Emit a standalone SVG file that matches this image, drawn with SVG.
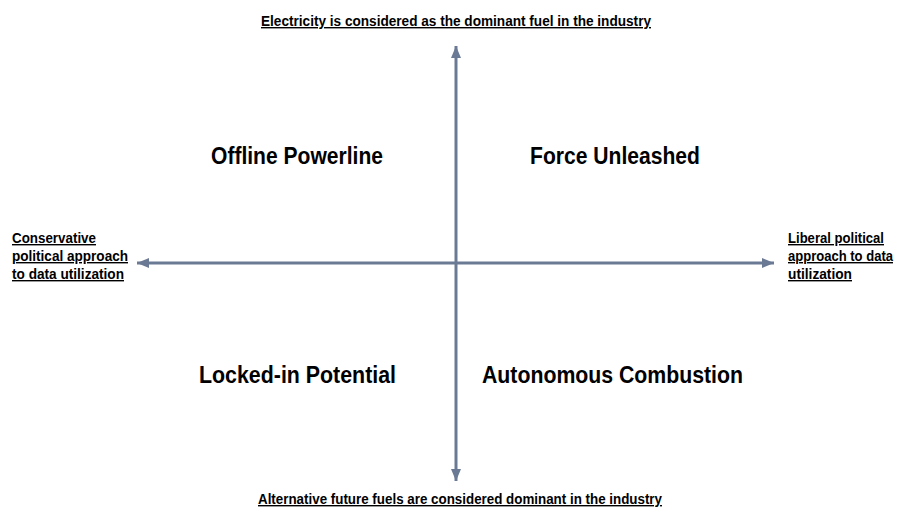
<svg xmlns="http://www.w3.org/2000/svg" width="897" height="514" viewBox="0 0 897 514">
<style>
.ax{stroke:#6b7a94;stroke-width:3;fill:none}
.lbl{font-family:"Liberation Sans",Arial,sans-serif;font-weight:bold;font-size:14px;fill:#000;text-decoration:underline}
.q{font-family:"Liberation Sans",Arial,sans-serif;font-weight:bold;font-size:23px;fill:#000}
</style>
<defs>
<marker id="ah" markerUnits="userSpaceOnUse" markerWidth="14" markerHeight="12" refX="12" refY="5" orient="auto">
<path d="M0,0 L12,5 L0,10 Z" fill="#6b7a94"/>
</marker>
</defs>
<rect width="897" height="514" fill="#fff"/>
<g id="connectors">
<line class="ax" x1="456" y1="263" x2="456" y2="46" marker-end="url(#ah)"/>
<line class="ax" x1="456" y1="263" x2="456" y2="481" marker-end="url(#ah)"/>
<line class="ax" x1="456" y1="263" x2="137" y2="263" marker-end="url(#ah)"/>
<line class="ax" x1="456" y1="263" x2="774" y2="263" marker-end="url(#ah)"/>
</g>
<g id="top-label"><text class="lbl" x="261" y="26" textLength="390" lengthAdjust="spacingAndGlyphs">Electricity is considered as the dominant fuel in the industry</text></g>
<g id="bottom-label"><text class="lbl" x="258" y="504" textLength="404" lengthAdjust="spacingAndGlyphs">Alternative future fuels are considered dominant in the industry</text></g>
<g id="left-label">
<text class="lbl" x="12" y="243" textLength="84" lengthAdjust="spacingAndGlyphs">Conservative</text>
<text class="lbl" x="12" y="261" textLength="116" lengthAdjust="spacingAndGlyphs">political approach</text>
<text class="lbl" x="12" y="279" textLength="112" lengthAdjust="spacingAndGlyphs">to data utilization</text>
</g>
<g id="right-label">
<text class="lbl" x="788" y="243" textLength="96" lengthAdjust="spacingAndGlyphs">Liberal political</text>
<text class="lbl" x="788" y="261" textLength="105" lengthAdjust="spacingAndGlyphs">approach to data</text>
<text class="lbl" x="788" y="279" textLength="64" lengthAdjust="spacingAndGlyphs">utilization</text>
</g>
<g id="offline-powerline"><text class="q" x="211" y="164" textLength="172" lengthAdjust="spacingAndGlyphs">Offline Powerline</text></g>
<g id="force-unleashed"><text class="q" x="530" y="164" textLength="170" lengthAdjust="spacingAndGlyphs">Force Unleashed</text></g>
<g id="locked-in-potential"><text class="q" x="199" y="383" textLength="197" lengthAdjust="spacingAndGlyphs">Locked-in Potential</text></g>
<g id="autonomous-combustion"><text class="q" x="482" y="383" textLength="261" lengthAdjust="spacingAndGlyphs">Autonomous Combustion</text></g>
</svg>
